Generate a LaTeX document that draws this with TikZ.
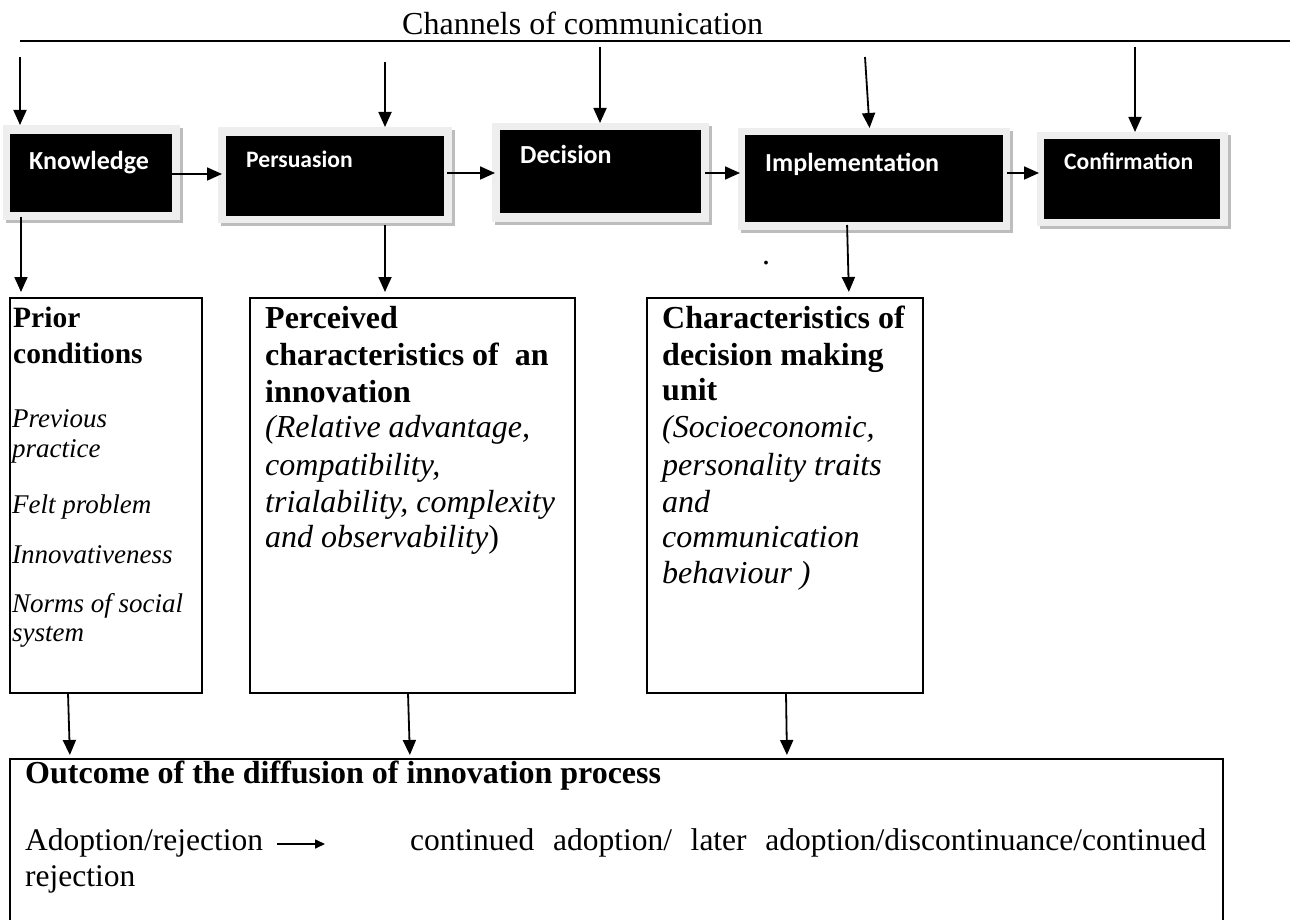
\documentclass[tikz,border=0pt]{standalone}
\usepackage{fontspec}
\setmainfont{Liberation Serif}
\newfontfamily\calfont{Carlito}
\usetikzlibrary{arrows.meta}
\definecolor{framegray}{HTML}{EEEEEE}
\definecolor{shadowgray}{HTML}{BDBDBD}
\newcommand\calb[1]{\calfont\bfseries\fontsize{#1}{#1}\selectfont}
\newcommand\tms[1]{\fontsize{#1}{#1}\selectfont}
\begin{document}
\begin{tikzpicture}[x=1pt,y=-1pt,
  arr/.style={-{Triangle[length=15pt,width=13pt]}, line width=1.8pt},
  smallarr/.style={-{Triangle[length=10pt,width=9pt]}, line width=1.6pt},
  blk/.style={fill=black, inner sep=0pt, outer sep=0pt},
  lbl/.style={anchor=base west, inner sep=0pt, text=white},
  tbox/.style={draw, line width=1.8pt, inner sep=0pt, outer sep=0pt},
  txt/.style={anchor=base west, inner sep=0pt},
]
\useasboundingbox (0,0) rectangle (1290,920);
\clip (0,0) rectangle (1290,920);

% title and channel line
\node[txt, font=\tms{32}] (title) at (402,35) {Channels of communication};
\coordinate (L0) at (20,41);
\coordinate (L1) at (1290,41);
\draw[line width=1.6pt] (L0) -- (L1);

% black stage boxes
\fill[shadowgray] (6,128) rectangle (183,223);
\fill[framegray] (3,125) rectangle (180,220);
\node[blk, minimum width=162pt, minimum height=78pt] (kn) at (91,173) {};
\node[lbl, font=\calb{26}] (knT) at (29,170) {Knowledge};

\fill[shadowgray] (221,130) rectangle (455,226);
\fill[framegray] (218,127) rectangle (452,223);
\node[blk, minimum width=218pt, minimum height=80pt] (pe) at (335,176) {};
\node[lbl, font=\calb{23.6}] (peT) at (246,168) {Persuasion};

\fill[shadowgray] (495,126) rectangle (712,225);
\fill[framegray] (492,123) rectangle (709,222);
\node[blk, minimum width=201pt, minimum height=83pt] (de) at (600.5,171.5) {};
\node[lbl, font=\calb{26}] (deT) at (520,164) {Decision};

\fill[shadowgray] (741,131) rectangle (1013,233);
\fill[framegray] (738,128) rectangle (1010,230);
\node[blk, minimum width=258pt, minimum height=87pt] (im) at (874,178.5) {};
\node[lbl, font=\calb{26}] (imT) at (765,172) {Implementation};

\fill[shadowgray] (1040,135) rectangle (1231,229);
\fill[framegray] (1037,132) rectangle (1228,226);
\node[blk, minimum width=176pt, minimum height=80pt] (co) at (1132,179) {};
\node[lbl, font=\calb{23.6}] (coT) at (1064,170) {Confirmation};

% arrows from channels
\coordinate (t1) at (20,57);
\coordinate (t2) at (385,62);
\coordinate (t3) at (600,47);
\coordinate (t4) at (865,57);
\coordinate (t5) at (1135,47);
\draw[arr, shorten >=9pt] (t1) -- (t1 |- kn.north);
\draw[arr, shorten >=9pt] (t2) -- (t2 |- pe.north);
\draw[arr, shorten >=7pt] (t3) -- (t3 |- de.north);
\draw[arr, shorten >=7pt] (t4) -- ([xshift=-4pt]im.north);
\draw[arr, shorten >=7pt] (t5) -- (t5 |- co.north);

% horizontal arrows
\draw[arr, shorten >=4pt] (kn.east |- 0,174) -- (pe.west |- 0,174);
\draw[arr, shorten <=3pt, shorten >=5pt] (pe.east |- 0,173) -- (de.west |- 0,173);
\draw[arr, shorten <=4pt, shorten >=5pt] (de.east |- 0,173) -- (im.west |- 0,173);
\draw[arr, shorten <=4pt, shorten >=5pt] (im.east |- 0,173) -- (co.west |- 0,173);

% white boxes
\node[tbox, minimum width=192pt, minimum height=395pt] (pr) at (106,495.5) {};
\node[tbox, minimum width=325pt, minimum height=395pt] (pc) at (412.5,495.5) {};
\node[tbox, minimum width=276pt, minimum height=395pt] (ch) at (785,495.5) {};
\node[tbox, minimum width=1213pt, minimum height=171pt] (oc) at (616.5,844.5) {};

% arrows down to white boxes
\draw[arr, shorten <=5pt, shorten >=6pt] (kn.south -| 21,0) -- (pr.north -| 21,0);
\draw[arr, shorten <=9pt, shorten >=6pt] (pe.south -| 385,0) -- (pc.north -| 385,0);
\draw[arr, shorten <=3pt, shorten >=6pt] (im.south -| 847,0) -- (ch.north -| 849,0);

% arrows down to outcome
\draw[arr, shorten >=4pt] (pr.south -| 68,0) -- (oc.north -| 70,0);
\draw[arr, shorten >=4pt] (pc.south -| 408,0) -- (oc.north -| 410,0);
\draw[arr, shorten >=4pt] (ch.south -| 786,0) -- (oc.north -| 787,0);

% Prior conditions text
\node[txt, font=\bfseries\tms{29.5}] (pr1) at (13,327) {Prior};
\node[txt, font=\bfseries\tms{29.5}] (pr2) at (13,363) {conditions};
\node[txt, font=\itshape\tms{27}] (pr3) at (12,427) {Previous};
\node[txt, font=\itshape\tms{27}] (pr4) at (12,457) {practice};
\node[txt, font=\itshape\tms{27}] (pr5) at (12,513) {Felt problem};
\node[txt, font=\itshape\tms{27}] (pr6) at (12,563) {Innovativeness};
\node[txt, font=\itshape\tms{27}] (pr7) at (12,612) {Norms of social};
\node[txt, font=\itshape\tms{27}] (pr8) at (12,641) {system};

% Perceived characteristics text
\node[txt, font=\bfseries\tms{32}] (pc1) at (265,328) {Perceived};
\node[txt, font=\bfseries\tms{32}] (pc2) at (265,365) {characteristics of\ \ an};
\node[txt, font=\bfseries\tms{32}] (pc3) at (265,402) {innovation};
\node[txt, font=\itshape\tms{32}] (pc4) at (265,437) {(Relative advantage,};
\node[txt, font=\itshape\tms{32}] (pc5) at (265,475) {compatibility,};
\node[txt, font=\itshape\tms{32}] (pc6) at (265,512) {trialability, complexity};
\node[txt, font=\itshape\tms{32}] (pc7) at (265,547) {and observability\upshape)};

% dot
\node[txt, font=\tms{32}] (dot) at (762,264) {.};

% Characteristics text
\node[txt, font=\bfseries\tms{32}] (ch1) at (662,328) {Characteristics of};
\node[txt, font=\bfseries\tms{32}] (ch2) at (662,365) {decision making};
\node[txt, font=\bfseries\tms{32}] (ch3) at (662,400) {unit};
\node[txt, font=\itshape\tms{32}] (ch4) at (662,437) {(Socioeconomic,};
\node[txt, font=\itshape\tms{32}] (ch5) at (662,475) {personality traits};
\node[txt, font=\itshape\tms{32}] (ch6) at (662,512) {and};
\node[txt, font=\itshape\tms{32}] (ch7) at (662,547) {communication};
\node[txt, font=\itshape\tms{32}] (ch8) at (662,583) {behaviour )};

% Outcome text
\node[txt, font=\bfseries\tms{32}] (oc1) at (25,783) {Outcome of the diffusion of innovation process};
\node[txt, font=\tms{31.5}] (oc2) at (25,850) {Adoption/rejection};
\coordinate (a1) at (277,844);
\coordinate (a2) at (325,844);
\draw[smallarr] (a1) -- (a2);
\node[txt, font=\tms{31.5}] (oc3) at (410,850) {\makebox[796pt][s]{continued adoption/ later adoption/discontinuance/continued}};
\node[txt, font=\tms{31.5}] (oc4) at (25,886) {rejection};
\end{tikzpicture}
\end{document}
